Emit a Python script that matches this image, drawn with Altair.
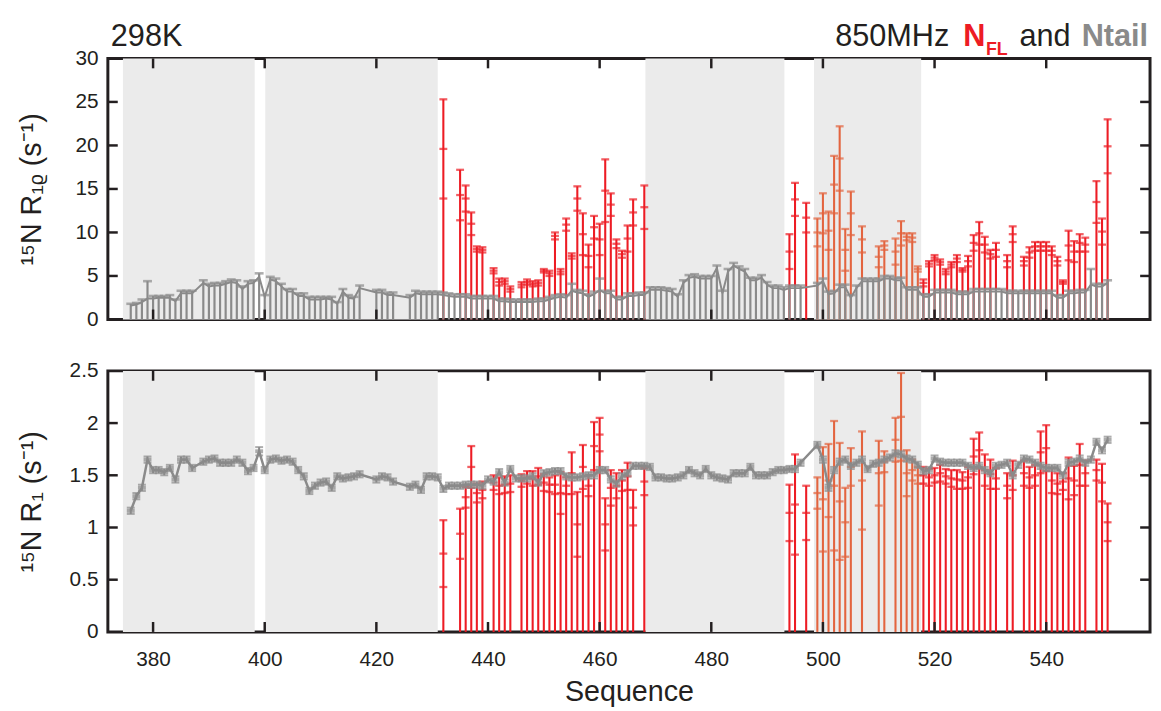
import altair as alt
import pandas as pd

# ---------------- data ----------------
# Ntail (gray)
g_res = [376, 377, 378, 379, 380, 381, 382, 383, 384, 385, 386, 387,
         389, 390, 391, 392, 393, 394, 395, 396, 397, 398, 399, 400, 401, 402, 403, 404, 405, 406, 407,
         408, 409, 410, 411, 412, 413, 414, 415, 416, 417,
         420, 421, 422, 423,
         426, 427, 428, 429, 430, 431, 432, 433, 434, 435, 436, 437, 438, 439, 440, 441, 442, 443, 444, 445,
         446, 447, 448, 449, 450, 451, 452, 453, 454, 455, 456, 457, 458, 459, 460, 461, 462, 463, 464, 465,
         466, 467, 468, 469, 470, 471, 472, 473, 474, 475, 476, 477, 478, 479, 480, 481, 482, 483, 484, 485,
         486, 487, 488, 489, 490, 491, 492, 493, 494, 495, 496,
         499, 500, 501, 502, 503, 504, 505, 506, 507, 508, 509, 510, 511, 512, 513, 514, 515, 516, 517, 518,
         519, 520, 521, 522, 523, 524, 525, 526, 527, 528, 529, 530, 531, 532, 533, 534, 535, 536, 537, 538,
         539, 540, 541, 542, 543, 544, 545, 546, 547, 548, 549, 550, 551]
g_r1rho = [1.6, 1.7, 2.0, 2.4, 2.4, 2.5, 2.5, 2.5, 2.1, 3.0, 3.0, 3.0,
           4.2, 3.8, 3.9, 3.9, 4.1, 4.3, 4.2, 3.5, 4.1, 4.2, 4.9, 2.6, 4.6, 4.4, 3.8, 3.2, 3.2, 2.7, 2.7,
           2.3, 2.3, 2.3, 2.4, 2.3, 1.8, 3.2, 2.5, 2.4, 3.6,
           3.1, 3.1, 2.8, 2.8,
           2.5, 3.0, 2.9, 2.9, 2.9, 2.9, 2.8, 2.7, 2.6, 2.6, 2.6, 2.4, 2.4, 2.4, 2.4, 2.4, 2.1, 2.1, 2.0, 2.0,
           2.0, 2.0, 2.0, 2.1, 2.1, 2.3, 2.5, 2.6, 2.5, 3.3, 3.1, 3.0, 2.6, 2.9, 3.4, 3.0, 3.0, 2.3, 2.3, 2.7,
           2.7, 2.8, 2.8, 3.4, 3.4, 3.4, 3.3, 3.2, 2.6, 4.2, 4.8, 4.9, 4.7, 4.7, 4.7, 5.9, 3.0, 5.5, 6.2, 5.8,
           5.5, 4.5, 4.5, 4.8, 4.0, 3.6, 3.6, 3.4, 3.6, 3.6, 3.6,
           3.9, 4.4, 2.9, 3.0, 3.7, 3.7, 2.5, 3.6, 4.4, 4.4, 4.4, 4.4, 4.7, 4.7, 4.5, 4.5, 3.4, 3.4, 3.4, 2.6,
           2.6, 3.1, 3.1, 3.1, 3.1, 2.9, 2.9, 2.9, 3.2, 3.2, 3.2, 3.2, 3.2, 3.2, 3.0, 3.0, 3.0, 3.0, 3.0, 3.0,
           3.0, 3.0, 3.0, 2.5, 2.5, 3.0, 3.0, 3.1, 3.1, 4.0, 3.8, 3.8, 4.2]
g_r1rho_err = [0.2, 0.2, 0.3, 2.0, 0.3, 0.2, 0.2, 0.3, 0.2, 0.3, 0.3, 0.3,
               0.3, 0.3, 0.3, 0.3, 0.3, 0.3, 0.3, 0.3, 0.3, 0.3, 0.4, 0.2, 0.3, 0.3, 0.3, 0.3, 0.3, 0.3, 0.3,
               0.3, 0.3, 0.3, 0.2, 0.3, 0.2, 0.3, 0.3, 0.2, 0.3,
               0.3, 0.3, 0.3, 0.3,
               0.3, 0.3, 0.3, 0.3, 0.3, 0.3, 0.3, 0.3, 0.3, 0.3, 0.3, 0.3, 0.3, 0.3, 0.3, 0.3, 0.3, 0.3, 0.3, 0.3,
               0.3, 0.3, 0.3, 0.3, 0.3, 0.3, 0.3, 0.3, 0.3, 0.8, 0.3, 0.3, 0.3, 0.3, 1.3, 0.3, 0.3, 0.3, 0.3, 0.3,
               0.3, 0.3, 0.3, 0.3, 0.3, 0.3, 0.3, 0.3, 0.3, 0.3, 0.3, 0.3, 0.3, 0.3, 0.3, 0.3, 0.3, 0.3, 0.3, 0.3,
               0.3, 0.3, 0.3, 0.3, 0.3, 0.3, 0.3, 0.3, 0.3, 0.3, 0.3,
               0.3, 0.3, 0.3, 0.3, 0.3, 0.3, 0.3, 0.3, 0.3, 0.3, 0.3, 0.3, 0.3, 0.3, 0.3, 0.3, 0.3, 0.3, 0.3, 0.3,
               0.3, 0.3, 0.3, 0.3, 0.3, 0.3, 0.3, 0.3, 0.3, 0.3, 0.3, 0.3, 0.3, 0.3, 0.3, 0.3, 0.3, 0.3, 0.3, 0.3,
               0.3, 0.3, 0.3, 0.3, 0.3, 0.3, 0.3, 0.3, 0.3, 1.8, 0.3, 0.3, 0.3]
g_r1 = [1.16, 1.30, 1.38, 1.65, 1.55, 1.55, 1.53, 1.57, 1.46, 1.65, 1.65, 1.57,
        1.63, 1.65, 1.66, 1.62, 1.62, 1.62, 1.65, 1.62, 1.54, 1.57, 1.73, 1.55, 1.65, 1.66, 1.64, 1.65, 1.63,
        1.55, 1.49, 1.35, 1.40, 1.43, 1.44, 1.38, 1.49, 1.47, 1.48, 1.49, 1.51,
        1.46, 1.49, 1.48, 1.44,
        1.39, 1.41, 1.36, 1.49, 1.49, 1.48, 1.37, 1.40, 1.40, 1.40, 1.41, 1.41, 1.41, 1.40, 1.46, 1.44, 1.53,
        1.43, 1.56, 1.47, 1.47, 1.47, 1.49, 1.43, 1.52, 1.53, 1.54, 1.54, 1.49, 1.48, 1.48, 1.49, 1.50, 1.50,
        1.55, 1.55, 1.46, 1.42, 1.49, 1.52, 1.59, 1.59, 1.59, 1.58, 1.48, 1.48, 1.47, 1.47, 1.48, 1.50, 1.55,
        1.52, 1.50, 1.56, 1.50, 1.48, 1.47, 1.46, 1.52, 1.52, 1.52, 1.58, 1.50, 1.50, 1.50, 1.53, 1.55, 1.55,
        1.56, 1.56, 1.62,
        1.79, 1.65, 1.38, 1.55, 1.63, 1.65, 1.59, 1.62, 1.65, 1.56, 1.61, 1.62, 1.65, 1.67, 1.71, 1.70, 1.66,
        1.65, 1.60, 1.54, 1.55, 1.66, 1.63, 1.62, 1.62, 1.62, 1.62, 1.59, 1.57, 1.59, 1.55, 1.52, 1.59, 1.60,
        1.62, 1.50, 1.60, 1.66, 1.65, 1.62, 1.59, 1.57, 1.57, 1.57, 1.50, 1.62, 1.63, 1.66, 1.62, 1.65, 1.82,
        1.74, 1.84]
g_r1_err = [0.03, 0.03, 0.03, 0.03, 0.03, 0.03, 0.03, 0.03, 0.03, 0.03, 0.03, 0.03,
            0.03, 0.03, 0.03, 0.03, 0.03, 0.03, 0.03, 0.03, 0.03, 0.03, 0.04, 0.03, 0.03, 0.03, 0.03, 0.03, 0.03,
            0.03, 0.03, 0.03, 0.03, 0.03, 0.03, 0.03, 0.03, 0.03, 0.03, 0.03, 0.03,
            0.03, 0.03, 0.03, 0.03,
            0.03, 0.03, 0.03, 0.03, 0.03, 0.03, 0.03, 0.03, 0.03, 0.03, 0.03, 0.03, 0.03, 0.03, 0.03, 0.03, 0.03,
            0.03, 0.03, 0.03, 0.03, 0.03, 0.03, 0.03, 0.03, 0.03, 0.03, 0.03, 0.03, 0.03, 0.03, 0.03, 0.03, 0.03,
            0.03, 0.03, 0.03, 0.03, 0.03, 0.03, 0.03, 0.03, 0.03, 0.03, 0.03, 0.03, 0.03, 0.03, 0.03, 0.03, 0.03,
            0.03, 0.03, 0.03, 0.03, 0.03, 0.03, 0.03, 0.03, 0.03, 0.03, 0.03, 0.03, 0.03, 0.03, 0.03, 0.03, 0.03,
            0.03, 0.03, 0.03,
            0.03, 0.03, 0.03, 0.03, 0.03, 0.03, 0.03, 0.03, 0.03, 0.03, 0.03, 0.03, 0.03, 0.03, 0.03, 0.03, 0.03,
            0.03, 0.03, 0.03, 0.03, 0.03, 0.03, 0.03, 0.03, 0.03, 0.03, 0.03, 0.03, 0.03, 0.03, 0.03, 0.03, 0.03,
            0.03, 0.03, 0.03, 0.03, 0.03, 0.03, 0.03, 0.03, 0.03, 0.03, 0.03, 0.03, 0.03, 0.03, 0.03, 0.03, 0.03,
            0.03, 0.03]

# N_FL (red)
r_res = [432, 435, 436, 437, 438, 439, 441, 442, 443, 444,
         446, 447, 448, 449, 450, 451, 452, 453, 454, 455, 456, 457, 458, 459, 460, 461, 462, 463, 464, 465, 466,
         468,
         494, 495, 497, 499, 500, 501, 502, 503, 504, 505, 507, 510, 511,
         513, 514, 515, 516, 517, 518, 519, 520, 521, 522, 523, 524, 525, 526, 527, 528, 529, 530, 531,
         533, 534, 536, 537, 538, 539, 540, 541, 542, 543, 544, 545, 546, 547, 549, 550, 551]
r_r1rho = [19.6, 14.3, 13.9, 11.0, 8.1, 8.0, 5.6, 4.3, 4.4, 3.5,
           4.0, 4.3, 4.1, 4.2, 5.6, 5.3, 9.6, 5.5, 10.9, 7.3, 13.9, 9.8, 7.3, 10.6, 9.2, 14.8, 13.2, 8.7, 7.5,
           9.3, 12.3,
           12.9,
           7.8, 13.8, 11.7, 10.0, 12.2, 10.2, 15.5, 18.5, 8.0, 12.2, 9.2, 7.2, 8.5,
           7.8, 9.9, 9.5, 9.4, 5.8, 4.2, 6.4, 7.1, 6.6, 5.5, 6.3, 7.0, 5.7, 6.7, 8.8, 9.9, 8.6, 7.5, 8.0,
           6.7, 9.8, 6.7, 7.7, 8.4, 8.4, 8.4, 7.9, 6.7, 4.3, 8.5, 7.8, 8.8, 8.6, 13.5, 10.1, 19.9]
r_r1rho_err = [5.7, 2.9, 1.5, 1.3, 0.3, 0.3, 0.3, 0.4, 0.3, 0.3,
               0.3, 0.3, 0.3, 0.3, 0.2, 0.3, 0.4, 0.3, 0.7, 0.3, 1.4, 2.4, 1.3, 1.3, 1.8, 3.6, 1.3, 0.5, 0.4,
               1.5, 1.5,
               2.5,
               2.0, 1.9, 1.7, 1.6, 2.3, 2.2, 3.3, 3.7, 2.4, 2.5, 1.5, 1.2, 0.5,
               1.5, 1.4, 0.4, 0.5, 0.3, 0.4, 0.3, 0.3, 0.3, 0.3, 0.3, 0.4, 0.2, 0.6, 0.9, 1.3, 0.9, 0.5, 0.8,
               0.7, 0.9, 0.5, 0.6, 0.5, 0.5, 0.5, 0.5, 0.5, 0.2, 1.7, 1.2, 1.0, 0.8, 2.4, 1.5, 3.1]
r_r1 = [0.75, 0.94, 1.29, 1.58, 1.33, 1.36, 1.43, 1.40, 1.41, 1.42,
        1.45, 1.48, 1.47, 1.49, 1.43, 1.41, 1.41, 1.33, 1.40, 1.52, 1.03, 1.58, 1.40, 1.78, 1.89, 1.03, 1.38,
        1.40, 1.45, 1.49, 1.19,
        1.44,
        1.14, 1.22, 1.14, 1.33, 1.27, 1.45, 1.40, 1.25, 1.05, 1.58, 1.45, 1.52, 1.63,
        1.84, 2.06, 1.52, 1.55, 1.50, 1.50, 1.48, 1.50, 1.52, 1.49, 1.47, 1.46, 1.45, 1.48, 1.68, 1.74, 1.55,
        1.51, 1.47,
        1.40, 1.50, 1.52, 1.48, 1.50, 1.72, 1.76, 1.45, 1.42, 1.44, 1.47, 1.45, 1.60, 1.52, 1.55, 1.43, 1.05]
r_r1_err = [0.32, 0.24, 0.10, 0.20, 0.09, 0.08, 0.07, 0.08, 0.08, 0.08,
            0.06, 0.06, 0.07, 0.08, 0.08, 0.07, 0.09, 0.20, 0.08, 0.20, 0.31, 0.21, 0.10, 0.23, 0.16, 0.25, 0.17,
            0.12, 0.10, 0.13, 0.17,
            0.13,
            0.27, 0.48, 0.26, 0.15, 0.50, 0.35, 0.62, 0.56, 0.33, 0.18, 0.47, 0.31, 0.10,
            0.21, 0.42, 0.22, 0.10, 0.08, 0.08, 0.08, 0.07, 0.08, 0.07, 0.08, 0.09, 0.08, 0.10, 0.17, 0.17, 0.15,
            0.14, 0.10,
            0.12, 0.14, 0.12, 0.10, 0.10, 0.20, 0.22, 0.12, 0.10, 0.08, 0.20, 0.14, 0.20, 0.12, 0.10, 0.18, 0.18]

shade_start = [374.6, 400.1, 468.2, 498.4]
shade_end = [398.2, 431.0, 493.1, 517.6]

x_ticks = [380, 400, 420, 440, 460, 480, 500, 520, 540]
top_labels = [0, 5, 10, 15, 20, 25, 30]
top_ticks = [5, 10, 15, 20, 25]
bot_labels = [0, 0.5, 1, 1.5, 2, 2.5]
bot_ticks = [0.5, 1, 1.5, 2]

# ---------------- style ----------------
RED = "#ed1c24"
ORANGE = "#e3643f"
GRAY = "#8a8a8a"
SHADE = "#ebebeb"
INK = "#231f20"
FONT = "Liberation Sans"
W, H = 1054, 264
X_DOMAIN = [371.9, 558.6]

gray = pd.DataFrame({"res": g_res, "v1": g_r1rho, "e1": g_r1rho_err, "v2": g_r1, "e2": g_r1_err})
red = pd.DataFrame({"res": r_res, "v1": r_r1rho, "e1": r_r1rho_err, "v2": r_r1, "e2": r_r1_err})
for df in (gray, red):
    df["hi1"] = df["v1"] + df["e1"]
    df["lo1"] = df["v1"] - df["e1"]
    df["hi2"] = df["v2"] + df["e2"]
    df["lo2"] = df["v2"] - df["e2"]
red["col"] = [ORANGE if shade_start[3] < r < shade_end[3] else RED for r in r_res]
shade = pd.DataFrame({"s": shade_start, "e": shade_end})


def text(s, x, y, size, color, weight="normal", align="left"):
    return alt.Chart(pd.DataFrame({"t": [s]})).mark_text(
        align=align, baseline="alphabetic", font=FONT, fontSize=size,
        fontWeight=weight, color=color
    ).encode(text="t:N", x=alt.value(x), y=alt.value(y))


def panel(k, ydom, ylabels, yticks, ytitle, bottom):
    xs = alt.Scale(domain=X_DOMAIN, nice=False, zero=False)
    ys = alt.Scale(domain=ydom, nice=False, zero=False)
    if bottom:
        xaxis = alt.Axis(values=x_ticks, title="Sequence", labelFontSize=21, labelPadding=17,
                         titleFontSize=29, titlePadding=8, labelFlush=False, labelOverlap=False)
    else:
        xaxis = None
    yaxis = alt.Axis(values=ylabels, title=ytitle, format="~g", labelFontSize=21, labelPadding=10,
                     titleFontSize=29, titleX=-68, titleY=H / 2, titleAngle=270,
                     titleAlign="center", titleBaseline="alphabetic", labelOverlap=False)

    def X(f):
        return alt.X(f, scale=xs, axis=xaxis)

    def Y(f):
        return alt.Y(f, scale=ys, axis=yaxis)

    v, hi, lo = "v" + k, "hi" + k, "lo" + k

    bg = alt.Chart(shade).mark_rect(color=SHADE).encode(
        x=X("s:Q"), x2="e:Q",
        y=alt.YDatum(ydom[1], scale=ys, axis=yaxis), y2=alt.datum(ydom[0]))

    red_drop = alt.Chart(red).mark_rule(strokeWidth=2.1).encode(
        x=X("res:Q"), y=Y(hi + ":Q"), y2=alt.datum(0),
        color=alt.Color("col:N", scale=None))
    red_caps = alt.Chart(red).transform_fold([lo, v, hi], as_=["kind", "val"]).mark_tick(
        orient="horizontal", size=8, thickness=2.3).encode(
        x=X("res:Q"), y=Y("val:Q"), color=alt.Color("col:N", scale=None))

    layers = [bg, red_drop, red_caps]
    if k == "1":
        g_drop = alt.Chart(gray).mark_rule(color=GRAY, strokeWidth=2.2).encode(
            x=X("res:Q"), y=Y(hi + ":Q"), y2=alt.datum(0))
        g_line = alt.Chart(gray).mark_line(color=GRAY, strokeWidth=2).encode(
            x=X("res:Q"), y=Y(v + ":Q"))
        g_cap = alt.Chart(gray).mark_tick(orient="horizontal", size=9, thickness=2.6, color=GRAY).encode(
            x=X("res:Q"), y=Y(hi + ":Q"))
        layers += [g_drop, g_line, g_cap]
    else:
        g_line = alt.Chart(gray).mark_line(color=GRAY, strokeWidth=2.5).encode(
            x=X("res:Q"), y=Y(v + ":Q"))
        g_err = alt.Chart(gray).mark_rule(color=GRAY, strokeWidth=2).encode(
            x=X("res:Q"), y=Y(lo + ":Q"), y2=hi + ":Q")
        g_caps = alt.Chart(gray).transform_fold([lo, hi], as_=["kind", "val"]).mark_tick(
            orient="horizontal", size=8, thickness=2, color=GRAY).encode(
            x=X("res:Q"), y=Y("val:Q"))
        g_mark = alt.Chart(gray).mark_tick(orient="horizontal", size=8, thickness=4, color=GRAY).encode(
            x=X("res:Q"), y=Y(v + ":Q"))
        layers += [g_line, g_err, g_caps, g_mark]

    xt = pd.DataFrame({"t": x_ticks})
    yt = pd.DataFrame({"t": yticks})
    tick_style = dict(color=INK, strokeWidth=2.5)
    layers += [
        alt.Chart(xt).mark_rule(**tick_style).encode(x=X("t:Q"), y=alt.value(0), y2=alt.value(10)),
        alt.Chart(xt).mark_rule(**tick_style).encode(x=X("t:Q"), y=alt.value(H - 10), y2=alt.value(H)),
        alt.Chart(yt).mark_rule(**tick_style).encode(y=Y("t:Q"), x=alt.value(0), x2=alt.value(10)),
        alt.Chart(yt).mark_rule(**tick_style).encode(y=Y("t:Q"), x=alt.value(W - 10), x2=alt.value(W)),
    ]
    if not bottom:
        layers += [
            text("298K", 3, -13, 31, INK),
            text("850MHz", 851, -13, 31, INK, align="right"),
            text("N", 865, -13, 31, RED, weight="bold"),
            text("FL", 888, -3, 18, RED, weight="bold"),
            text("and", 922, -13, 31, INK),
            text("Ntail", 1052, -13, 31, GRAY, weight="bold", align="right"),
        ]
    return alt.layer(*layers).properties(width=W, height=H)


top = panel("1", [0, 30], top_labels, top_ticks, "¹⁵N R₁ᵨ (s⁻¹)", False)
bot = panel("2", [0, 2.5], bot_labels, bot_ticks, "¹⁵N R₁ (s⁻¹)", True)

chart = alt.vconcat(top, bot, spacing=27).properties(
    padding={"left": 8, "top": 7, "right": 0, "bottom": 0}
).configure_axis(
    labelFont=FONT, titleFont=FONT, labelColor=INK, titleColor=INK, titleFontWeight="normal",
    grid=False, ticks=False, domain=False
).configure_view(stroke=INK, strokeWidth=3)

chart.save("out.html", embed_options={"renderer": "svg", "actions": False})
